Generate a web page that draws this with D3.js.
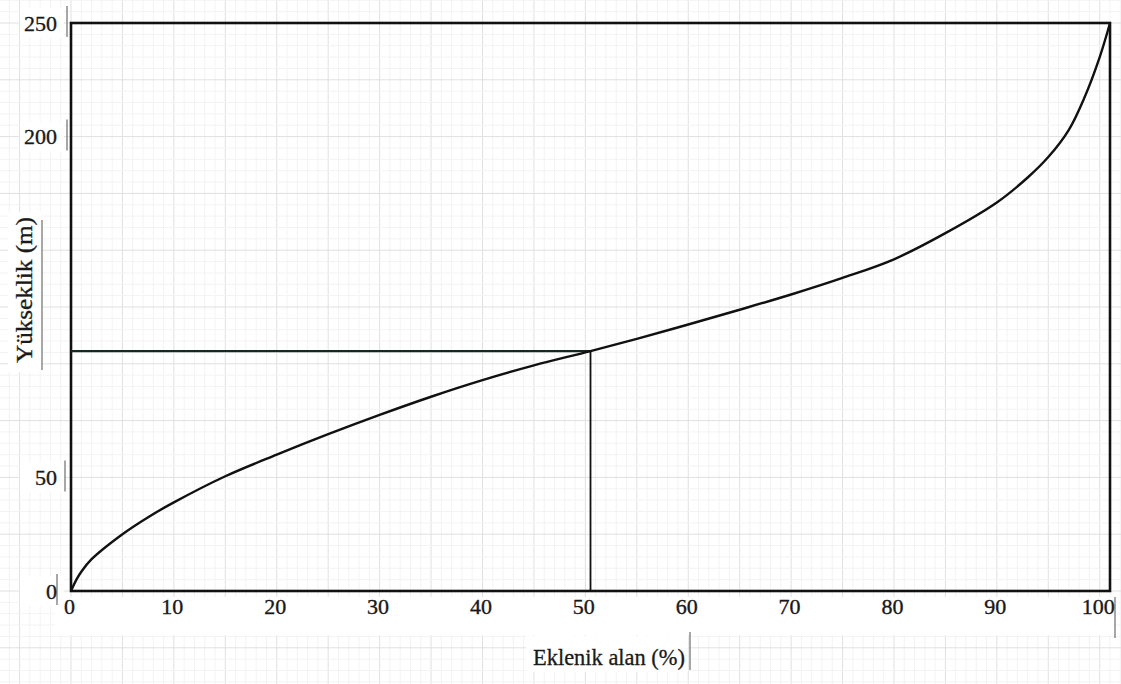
<!DOCTYPE html>
<html>
<head>
<meta charset="utf-8">
<script src="https://cdn.jsdelivr.net/npm/d3@7"></script>
<style>
  html, body { margin: 0; padding: 0; background: #fff; }
  svg { display: block; }
  text { font-family: "Liberation Serif", "DejaVu Serif", serif; fill: #1a1a1a; }
</style>
</head>
<body>
<svg id="chart" width="1121" height="684"></svg>
<script>
// ---- data ----
const areaPct   = [0, 0.5, 1, 2, 5, 7.5, 10, 15, 20, 25, 30, 35, 40, 45, 50.5, 55, 60, 65, 70, 75, 80, 85, 90, 93, 95, 97, 98.5, 100, 101];
const elevation = [0, 4.8, 8.5, 14, 25, 32.5, 39, 50.5, 60, 69, 77.5, 85.5, 92.8, 99.3, 105.6, 111, 117.3, 123.8, 130.5, 137.8, 146, 157.5, 171, 182, 191, 203, 217, 235, 250];
const medianPct = 50.5;
const medianElev = 105.6;
const xTickValues = [0, 10, 20, 30, 40, 50, 60, 70, 80, 90, 100];
const yTickValues = [0, 50, 200, 250];
const xTitle = "Eklenik alan (%)";
const yTitle = "Yükseklik (m)";

const W = 1121, H = 684;
const svg = d3.select("#chart");
const x = d3.scaleLinear().domain([0, 101]).range([71, 1110]);
const y = d3.scaleLinear().domain([0, 250]).range([591, 23]);

// ---- graph-paper background ----
const grid = svg.append("g");
const xMinor = d3.range(-7, 106, 1), yMinor = d3.range(-40, 262, 5);
grid.selectAll(".vx").data(xMinor).join("line")
  .attr("x1", d => x(d)).attr("x2", d => x(d)).attr("y1", 0).attr("y2", H)
  .attr("stroke", d => d % 5 === 0 ? "#e0e0e0" : "#f3f3f3").attr("stroke-width", 1);
grid.selectAll(".hy").data(yMinor).join("line")
  .attr("y1", d => y(d)).attr("y2", d => y(d)).attr("x1", 0).attr("x2", W)
  .attr("stroke", d => d % 25 === 0 ? "#e0e0e0" : "#f3f3f3").attr("stroke-width", 1);

// white bands behind the label boxes
const bg = svg.append("g").attr("fill", "#fff");
bg.append("rect").attr("x", 55).attr("y", 597).attr("width", 1058).attr("height", 38);
bg.append("rect").attr("x", 526).attr("y", 636).attr("width", 162).attr("height", 36);
bg.append("rect").attr("x", 8).attr("y", 212).attr("width", 33).attr("height", 160);
yTickValues.forEach(v => {
  bg.append("rect").attr("x", 20).attr("y", y(v) - 15).attr("width", 44).attr("height", 30);
});

// decorative text-box edges seen in the scan
const deco = svg.append("g").attr("stroke", "#8a8a8a").attr("stroke-width", 1.5);
yTickValues.forEach(v => {
  const bx = v === 0 ? 57 : (v === 50 ? 65 : 67);
  deco.append("line").attr("x1", bx).attr("x2", bx).attr("y1", y(v) - 17).attr("y2", y(v) + 14);
});
deco.append("line").attr("x1", 42).attr("x2", 42).attr("y1", 220).attr("y2", 370);
deco.append("line").attr("x1", 690).attr("x2", 690).attr("y1", 632).attr("y2", 670);
deco.append("line").attr("x1", 1115).attr("x2", 1115).attr("y1", 597).attr("y2", 638);

// ---- frame ----
svg.append("rect")
  .attr("x", x(0)).attr("y", y(250))
  .attr("width", x(101) - x(0)).attr("height", y(0) - y(250))
  .attr("fill", "none").attr("stroke", "#111").attr("stroke-width", 2.6);

// ---- median guide lines ----
svg.append("line")
  .attr("x1", x(0)).attr("x2", x(medianPct))
  .attr("y1", y(medianElev)).attr("y2", y(medianElev))
  .attr("stroke", "#132a24").attr("stroke-width", 2.2);
svg.append("line")
  .attr("x1", x(medianPct)).attr("x2", x(medianPct))
  .attr("y1", y(medianElev)).attr("y2", y(0))
  .attr("stroke", "#111").attr("stroke-width", 1.8);

// ---- hypsometric curve ----
const pts = areaPct.map((a, i) => [a, elevation[i]]);
svg.append("path")
  .datum(pts)
  .attr("fill", "none").attr("stroke", "#111").attr("stroke-width", 2.4)
  .attr("d", d3.line().x(d => x(d[0])).y(d => y(d[1])).curve(d3.curveCatmullRom.alpha(0.5)));

// ---- axes ----
const xAxis = svg.append("g").attr("transform", `translate(0, 598)`)
  .call(d3.axisBottom(x).tickValues(xTickValues).tickSize(0).tickPadding(0).tickFormat(d3.format("d")));
xAxis.select(".domain").remove();
xAxis.selectAll("text").attr("font-size", 22).attr("dy", "0.71em").attr("dx", -2)
  .style("font-family", "Liberation Serif").attr("fill", "#151515")
  .attr("stroke", "#151515").attr("stroke-width", 0.35);

const yAxis = svg.append("g").attr("transform", `translate(57, 0)`)
  .call(d3.axisLeft(y).tickValues(yTickValues).tickSize(0).tickPadding(0).tickFormat(d3.format("d")));
yAxis.select(".domain").remove();
yAxis.selectAll("text").attr("font-size", 22)
  .style("font-family", "Liberation Serif").attr("fill", "#151515")
  .attr("stroke", "#151515").attr("stroke-width", 0.35);

// ---- titles ----
svg.append("text")
  .attr("x", 609).attr("y", 665)
  .attr("text-anchor", "middle").attr("font-size", 23)
  .attr("stroke", "#1a1a1a").attr("stroke-width", 0.3)
  .attr("textLength", 152).attr("lengthAdjust", "spacingAndGlyphs")
  .text(xTitle);
svg.append("text")
  .attr("transform", "translate(32, 290) rotate(-90)")
  .attr("text-anchor", "middle").attr("font-size", 23)
  .attr("stroke", "#1a1a1a").attr("stroke-width", 0.3)
  .attr("textLength", 146).attr("lengthAdjust", "spacingAndGlyphs")
  .text(yTitle);
</script>
</body>
</html>
